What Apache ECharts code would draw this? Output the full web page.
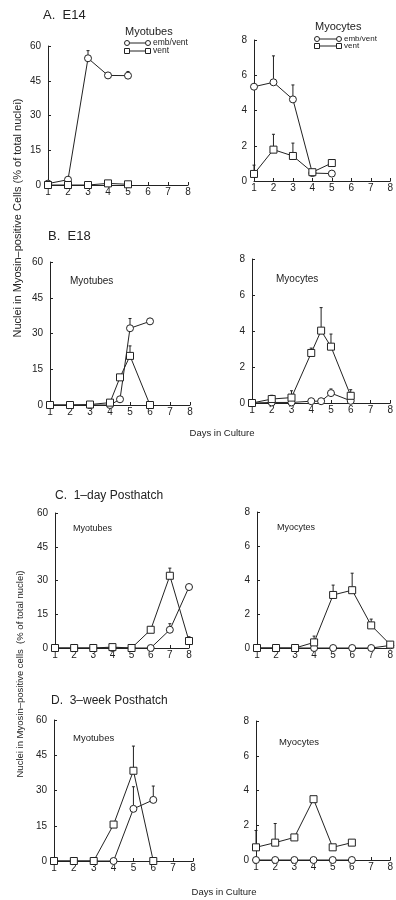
<!DOCTYPE html>
<html>
<head>
<meta charset="utf-8">
<script src="https://cdn.jsdelivr.net/npm/echarts@6/dist/echarts.min.js"></script>
<style>
html,body{margin:0;padding:0;background:#fff;}
#chart{width:396px;height:900px;}
</style>
</head>
<body>
<div id="chart"></div>
<script>
// x ticks / y ticks
var dayTicks = [1, 2, 3, 4, 5, 6, 7, 8];
var tubeMax = 60, tubeStep = 15;
var cyteMax = 8, cyteStep = 2;

// A. E14
var aTubeX = [1, 2, 3, 4, 5];
var aTubeEmb = [0.6, 2.3, 54.7, 47.3, 47.2];
var aTubeEmbErr = [null, null, 58, null, 49];
var aTubeVent = [0, 0, 0, 0.7, 0.3];
var aTubeVentErr = [null, null, null, null, null];

var aCyteX = [1, 2, 3, 4, 5];
var aCyteEmb = [5.35, 5.6, 4.63, 0.45, 0.42];
var aCyteEmbErr = [null, 7.1, 5.45, null, null];
var aCyteVent = [0.4, 1.78, 1.42, 0.5, 1.02];
var aCyteVentErr = [0.9, 2.65, 2.15, null, null];

// B. E18
var bX = [1, 2, 3, 4, 4.5, 5, 6];
var bTubeEmb = [0, 0, 0, 0, 2.4, 32.2, 35.1];
var bTubeEmbErr = [null, null, null, null, null, 36.3, 36.3];
var bTubeVent = [0, 0, 0.2, 1, 11.6, 20.6, 0];
var bTubeVentErr = [null, null, null, null, null, 24.8, null];

var bCyteEmb = [0, 0.03, 0.03, 0.1, 0.1, 0.55, 0.12];
var bCyteEmbErr = [null, null, null, null, null, 0.78, null];
var bCyteVent = [0, 0.22, 0.3, 2.78, 4.02, 3.13, 0.4];
var bCyteVentErr = [null, 0.43, 0.68, 3.05, 5.3, 3.83, 0.74];

// C. 1-day Posthatch
var cX = [1, 2, 3, 4, 5, 6, 7, 8];
var cTubeEmb = [0, 0, 0, 0, 0, 0, 8.1, 27.1];
var cTubeEmbErr = [null, null, null, null, null, null, 10.8, null];
var cTubeVent = [0, 0, 0, 0.4, 0, 8.1, 32.1, 3.1];
var cTubeVentErr = [null, null, null, null, null, null, 35.5, 5];

var cCyteEmb = [0, 0, 0, 0, 0, 0, 0, 0.15];
var cCyteEmbErr = [null, null, null, null, null, null, null, null];
var cCyteVent = [0, 0, 0, 0.33, 3.12, 3.4, 1.33, 0.2];
var cCyteVentErr = [null, null, null, 0.7, 3.7, 4.4, 1.7, 0.35];

// D. 3-week Posthatch
var dX = [1, 2, 3, 4, 5, 6];
var dTubeEmb = [0, 0, 0, 0, 22.2, 26];
var dTubeEmbErr = [null, null, null, null, 31.6, 31.9];
var dTubeVent = [0, 0, 0, 15.5, 38.4, 0];
var dTubeVentErr = [null, null, null, null, 48.9, null];

var dCyteEmb = [0, 0, 0, 0, 0, 0];
var dCyteEmbErr = [null, null, null, null, null, null];
var dCyteVent = [0.73, 1.0, 1.3, 3.5, 0.73, 1.0];
var dCyteVentErr = [1.7, 2.1, null, null, null, null];

var panels = [
	{x: aTubeX, emb: aTubeEmb, embErr: aTubeEmbErr, vent: aTubeVent, ventErr: aTubeVentErr, max: tubeMax, step: tubeStep},
	{x: aCyteX, emb: aCyteEmb, embErr: aCyteEmbErr, vent: aCyteVent, ventErr: aCyteVentErr, max: cyteMax, step: cyteStep},
	{x: bX, emb: bTubeEmb, embErr: bTubeEmbErr, vent: bTubeVent, ventErr: bTubeVentErr, max: tubeMax, step: tubeStep},
	{x: bX, emb: bCyteEmb, embErr: bCyteEmbErr, vent: bCyteVent, ventErr: bCyteVentErr, max: cyteMax, step: cyteStep},
	{x: cX, emb: cTubeEmb, embErr: cTubeEmbErr, vent: cTubeVent, ventErr: cTubeVentErr, max: tubeMax, step: tubeStep},
	{x: cX, emb: cCyteEmb, embErr: cCyteEmbErr, vent: cCyteVent, ventErr: cCyteVentErr, max: cyteMax, step: cyteStep},
	{x: dX, emb: dTubeEmb, embErr: dTubeEmbErr, vent: dTubeVent, ventErr: dTubeVentErr, max: tubeMax, step: tubeStep},
	{x: dX, emb: dCyteEmb, embErr: dCyteEmbErr, vent: dCyteVent, ventErr: dCyteVentErr, max: cyteMax, step: cyteStep}
];

var grids = [
	{left: 48, top: 46, width: 140, height: 139},
	{left: 254, top: 40, width: 140, height: 141},
	{left: 50, top: 262, width: 140, height: 143},
	{left: 252, top: 259, width: 142, height: 144},
	{left: 55, top: 513, width: 134, height: 135},
	{left: 257, top: 512, width: 135, height: 136},
	{left: 54, top: 720, width: 139, height: 141},
	{left: 256, top: 721, width: 137, height: 139}
];

var ink = '#222';
var font = '"Liberation Sans", Arial, sans-serif';

function pairs(x, v) {
	return x.map(function (d, i) { return [d, v[i]]; });
}
function errTriples(x, v, e) {
	var out = [];
	x.forEach(function (d, i) {
		if (e[i] != null) out.push([d, v[i], e[i]]);
	});
	return out;
}
function renderErr(params, api) {
	var p = api.coord([api.value(0), api.value(1)]);
	var t = api.coord([api.value(0), api.value(2)]);
	return {
		type: 'group',
		children: [
			{type: 'line', shape: {x1: p[0], y1: p[1] - 3.5, x2: t[0], y2: t[1]}, style: {stroke: ink, lineWidth: 1}},
			{type: 'line', shape: {x1: t[0] - 1.5, y1: t[1], x2: t[0] + 1.5, y2: t[1]}, style: {stroke: ink, lineWidth: 1}}
		]
	};
}

var xAxes = [], yAxes = [], series = [];
panels.forEach(function (p, i) {
	xAxes.push({
		gridIndex: i, type: 'value', min: 1, max: 8, interval: 1,
		axisLine: {lineStyle: {color: ink, width: 1}},
		axisTick: {inside: true, length: 3, lineStyle: {color: ink}},
		axisLabel: {color: ink, fontSize: 10, fontFamily: font, margin: 2},
		splitLine: {show: false}
	});
	yAxes.push({
		gridIndex: i, type: 'value', min: 0, max: p.max, interval: p.step,
		axisLine: {show: true, lineStyle: {color: ink, width: 1}},
		axisTick: {show: true, inside: true, length: 3, lineStyle: {color: ink}},
		axisLabel: {color: ink, fontSize: 10, fontFamily: font, margin: 7},
		splitLine: {show: false}
	});
	var common = {
		type: 'line', xAxisIndex: i, yAxisIndex: i, symbolSize: 7,
		itemStyle: {color: '#fff', borderColor: ink, borderWidth: 1},
		lineStyle: {color: ink, width: 1}, z: 3, animation: false
	};
	series.push(Object.assign({}, common, {name: 'emb/vent', symbol: 'circle', data: pairs(p.x, p.emb)}));
	series.push(Object.assign({}, common, {name: 'vent', symbol: 'rect', data: pairs(p.x, p.vent)}));
	series.push({type: 'custom', xAxisIndex: i, yAxisIndex: i, renderItem: renderErr, data: errTriples(p.x, p.emb, p.embErr), z: 2, clip: false});
	series.push({type: 'custom', xAxisIndex: i, yAxisIndex: i, renderItem: renderErr, data: errTriples(p.x, p.vent, p.ventErr), z: 2, clip: false});
});

function txt(x, y, s, size, align) {
	return {
		type: 'text', x: x, y: y,
		style: {text: s, fill: ink, font: size + 'px ' + font, textAlign: align || 'left', textVerticalAlign: 'middle'}
	};
}
function legendRows(x, y, gap, size, fs, dy) {
	var r = size / 2;
	var g = [];
	g.push({type: 'line', shape: {x1: x + r, y1: y, x2: x + gap - r, y2: y}, style: {stroke: ink, lineWidth: 1}});
	g.push({type: 'circle', shape: {cx: x, cy: y, r: r}, style: {fill: '#fff', stroke: ink, lineWidth: 1}});
	g.push({type: 'circle', shape: {cx: x + gap, cy: y, r: r}, style: {fill: '#fff', stroke: ink, lineWidth: 1}});
	g.push(txt(x + gap + 5, y, 'emb/vent', fs));
	var y2 = y + dy;
	g.push({type: 'line', shape: {x1: x + r, y1: y2, x2: x + gap - r, y2: y2}, style: {stroke: ink, lineWidth: 1}});
	g.push({type: 'rect', shape: {x: x - r, y: y2 - r, width: size, height: size}, style: {fill: '#fff', stroke: ink, lineWidth: 1}});
	g.push({type: 'rect', shape: {x: x + gap - r, y: y2 - r, width: size, height: size}, style: {fill: '#fff', stroke: ink, lineWidth: 1}});
	g.push(txt(x + gap + 5, y2, 'vent', fs));
	return g;
}

var graphics = [
	txt(43, 15, 'A.  E14', 13),
	txt(48, 236, 'B.  E18', 13),
	txt(55, 496, 'C.  1\u2013day Posthatch', 12),
	txt(51, 701, 'D.  3\u2013week Posthatch', 12),
	txt(125, 32, 'Myotubes', 11),
	txt(315, 27, 'Myocytes', 11),
	txt(70, 281, 'Myotubes', 10),
	txt(276, 279, 'Myocytes', 10),
	txt(73, 529, 'Myotubes', 9),
	txt(277, 528, 'Myocytes', 9),
	txt(73, 738, 'Myotubes', 9.5),
	txt(279, 742, 'Myocytes', 9.5),
	txt(222, 433, 'Days in Culture', 9.5, 'center'),
	txt(224, 892, 'Days in Culture', 9.5, 'center'),
	{type: 'text', x: 18, y: 218, rotation: Math.PI / 2,
		style: {text: 'Nuclei in Myosin\u2013positive Cells (% of total nuclei)', fill: ink, font: '11px ' + font, textAlign: 'center', textVerticalAlign: 'middle'}},
	{type: 'text', x: 20, y: 674, rotation: Math.PI / 2,
		style: {text: 'Nuclei in Myosin\u2013positive cells  (% of total nuclei)', fill: ink, font: '9.5px ' + font, textAlign: 'center', textVerticalAlign: 'middle'}}
].concat(legendRows(127, 43, 21, 5, 8.5, 8)).concat(legendRows(317, 39, 22, 5, 8, 7));

var myChart = echarts.init(document.getElementById('chart'));
myChart.setOption({
	backgroundColor: '#fff',
	animation: false,
	grid: grids,
	xAxis: xAxes,
	yAxis: yAxes,
	series: series,
	graphic: graphics
});
</script>
</body>
</html>
